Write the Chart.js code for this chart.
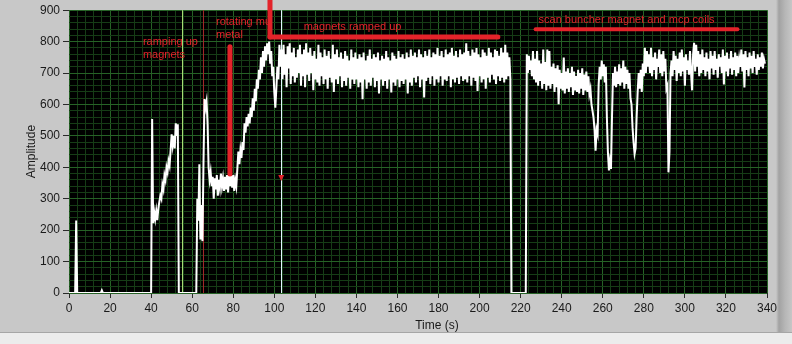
<!DOCTYPE html>
<html><head><meta charset="utf-8">
<script src="https://cdn.jsdelivr.net/npm/chart.js@4"></script>
<style>
html,body{margin:0;padding:0;}
body{width:792px;height:344px;overflow:hidden;background:#ececec;}
#wrap{position:relative;width:792px;height:344px;
 background:
  linear-gradient(#a6a6a6,#a6a6a6) 0 332px / 792px 1px no-repeat,
  linear-gradient(to right,#c8c8c8 0,#c8c8c8 776px,#a2a2a2 779px,#b6b6b6 785px,#c6c6c6 792px) 0 0 / 792px 333px no-repeat,
  #ececec;}
canvas{position:absolute;left:0;top:0;}
</style></head><body>
<div id="wrap"><canvas id="c" width="792" height="344" style="width:792px;height:344px"></canvas></div>
<script>
const sampleStep = 0.5;
const amplitude = [
  // 0 - 39.5 s
  0,0,0,0,0,0,0, 231,
  0,0,0,0,0,0,0,0,0,0,0,0, 0,0,0,0,0,0,0,0,0,0,0,0,
  8,
  0,0,0,0,0,0,0,0,0,0,0,0, 0,0,0,0,0,0,0,0,0,0,0,0, 0,0,0,0,0,0,0,0,0,0,0,0, 0,0,0,0,0,0,0,0,0,0,0,
  // 40 - 53.5 s ramping up magnets
  0,554,222,258,235,262,232,268,290,310,300,345,330,375,360,400,385,420,405,455,505,470,500,460,540,500,537,0,
  // 54 - 62 s
  0,0,0,0,0,0,0,0,0,0,0,0, 0,0,0,0,0,
  // 62.5 - 68.5 s
  300,230,410,170,280,165,410,617,590,610,540,400,360,
  // 69 - 81.5 s rotating mu metal
  385,340,370,300,365,330,375,310,360,335,380,340,365,325,370,330,375,320,385,340,370,335,375,325,360,340,
  // 82 - 103 s
  395,450,410,455,430,480,455,540,510,560,530,570,540,590,560,620,580,650,610,680,650,710,680,750,700,770,720,785,740,795,760,800,730,770,690,720,640,590,650,720,680,790,720,
  // 103.5 - 215 s magnets ramped up
  775,680,790,695,760,655,785,715,795,665,
  765,690,780,670,750,685,775,700,790,660,
  760,690,775,655,795,695,765,675,780,700,
  755,645,770,680,745,670,790,660,765,690,
  750,665,775,680,755,650,770,685,745,670,
  790,640,760,680,775,665,750,690,765,655,
  745,675,770,660,755,685,740,650,775,680,
  750,665,765,680,745,655,760,670,750,617,
  765,680,740,650,755,670,775,660,745,685,
  760,655,750,675,765,635,740,680,755,660,
  745,675,770,650,750,680,740,638,765,670,
  755,660,745,680,770,655,750,675,760,665,
  745,680,765,635,750,670,775,660,755,685,
  765,670,750,690,775,655,760,680,750,622,
  770,675,755,685,775,665,750,690,765,660,
  760,680,780,670,755,690,770,660,750,680,
  775,675,760,690,765,655,780,680,755,670,
  770,685,750,665,775,690,760,675,765,680,
  795,670,770,690,755,660,775,685,765,675,
  780,643,760,690,750,670,775,680,765,650,
  755,685,780,670,765,695,750,680,775,665,
  770,690,755,675,780,685,765,670,790,680,
  765,690,750,680,
  // 215.5 - 222.5 s
  0,0,0,0,0,0,0,0,0,0,0,0,0,0,0,
  // 223 - 339 s scan buncher magnet and mcp coils
  760,700,755,710,740,690,770,680,745,670,
  770,660,740,675,730,650,775,665,735,645,
  775,660,770,650,720,665,730,640,715,655,
  725,601,710,650,700,645,749,635,705,650,
  715,640,700,655,720,630,705,645,690,640,
  710,635,700,650,715,630,695,645,705,640,
  690,633,650,600,580,558,520,453,520,506,
  664,720,680,740,690,728,670,720,560,450,
  390,420,395,560,700,660,720,655,705,665,
  728,660,715,670,740,650,720,665,710,650,
  700,620,600,527,480,443,460,560,640,700,
  650,710,640,730,690,780,700,770,720,760,
  700,780,690,750,710,765,680,745,720,775,
  700,760,690,770,705,745,650,660,384,450,
  700,740,690,770,710,755,675,745,700,765,
  690,775,705,750,660,760,710,740,695,770,
  700,645,760,796,705,790,720,770,690,760,
  700,775,710,750,690,765,705,745,680,770,
  715,755,695,770,710,745,685,760,720,750,
  700,775,664,755,705,765,690,745,715,770,
  695,750,710,765,690,755,700,745,720,775,
  705,760,654,770,710,750,690,765,715,755,
  700,770,720,745,695,760,710,750,720,765,
  715,745,730
];
const timeSec = amplitude.map((_, i) => i * sampleStep);
const xMajorTicks = [0,20,40,60,80,100,120,140,160,180,200,220,240,260,280,300,320,340];
const yMajorTicks = [0,100,200,300,400,500,600,700,800,900];

// cursors (time, s)
const cursorTimes = [55.2, 65.2, 103.5];
const cursorColors = ['#a8da74', '#a12828', '#e2f6ff'];

// hand-drawn red notes (time s, amplitude)
const noteTexts = ['ramping up', 'magnets', 'rotating mu', 'metal', 'magnets ramped up', 'scan buncher magnet and mcp coils'];
const noteTime = [36.0, 36.0, 71.6, 71.6, 114.3, 228.7];
const noteAmp = [800, 757, 861, 821, 846, 868];
const markFromTime = [78.4, 97.9, 97.9, 227.3];
const markFromAmp  = [784, 935, 815, 839];
const markToTime   = [78.4, 97.9, 208.9, 325.6];
const markToAmp    = [379, 815, 815, 839];
const markWidth    = [5, 5, 5, 4];
const arrowTime = 103.4, arrowAmp = 366;

const RED = '#e3232a';
const FONT = '"Liberation Sans", Arial, sans-serif';

const overlay = {
  id: 'overlay',
  beforeDraw(chart) {
    const {ctx, chartArea: a} = chart;
    ctx.save();
    ctx.fillStyle = '#000';
    ctx.fillRect(a.left, a.top, a.right - a.left, a.bottom - a.top);
    ctx.restore();
  },
  beforeDatasetsDraw(chart) {
    const {ctx, chartArea: a, scales: {x}} = chart;
    ctx.save();
    ctx.lineWidth = 1;
    cursorTimes.forEach((t, i) => {
      const px = Math.round(x.getPixelForValue(t)) + 0.5;
      ctx.strokeStyle = cursorColors[i];
      ctx.beginPath(); ctx.moveTo(px, a.top); ctx.lineTo(px, a.bottom); ctx.stroke();
    });
    ctx.restore();
  },
  afterDatasetsDraw(chart) {
    const {ctx, scales: {x, y}} = chart;
    ctx.save();
    ctx.fillStyle = RED;
    ctx.font = '11px ' + FONT;
    ctx.textBaseline = 'middle';
    ctx.textAlign = 'left';
    noteTexts.forEach((s, i) => ctx.fillText(s, x.getPixelForValue(noteTime[i]), y.getPixelForValue(noteAmp[i])));
    ctx.strokeStyle = RED;
    ctx.lineCap = 'round';
    markFromTime.forEach((t, i) => {
      ctx.lineWidth = markWidth[i];
      ctx.beginPath();
      ctx.moveTo(x.getPixelForValue(t), y.getPixelForValue(markFromAmp[i]));
      ctx.lineTo(x.getPixelForValue(markToTime[i]), y.getPixelForValue(markToAmp[i]));
      ctx.stroke();
    });
    const ax = x.getPixelForValue(arrowTime), ay = y.getPixelForValue(arrowAmp);
    ctx.beginPath();
    ctx.moveTo(ax - 3, ay - 3); ctx.lineTo(ax + 3, ay - 3); ctx.lineTo(ax, ay + 3); ctx.closePath();
    ctx.fill();
    ctx.restore();
  },
  afterDraw(chart) {
    const {ctx, chartArea: a} = chart;
    ctx.save();
    ctx.fillStyle = '#1a1a1a';
    ctx.font = '12px ' + FONT;
    ctx.textAlign = 'center';
    ctx.textBaseline = 'middle';
    ctx.fillText('Time (s)', (a.left + a.right) / 2 + 19, 326);
    ctx.translate(32, (a.top + a.bottom) / 2);
    ctx.rotate(-Math.PI / 2);
    ctx.fillText('Amplitude', 0, 0);
    ctx.restore();
  }
};

const majorGrid = 'rgb(38,98,38)';
const minorGrid = 'rgb(22,60,22)';

new Chart(document.getElementById('c'), {
  type: 'line',
  data: {
    datasets: [{
      label: 'Amplitude',
      data: timeSec.map((t, i) => ({x: t, y: amplitude[i]})),
      borderColor: '#ffffff',
      borderWidth: 2,
      pointRadius: 0,
      fill: false,
      tension: 0
    }]
  },
  options: {
    responsive: false,
    devicePixelRatio: 1,
    animation: false,
    layout: {padding: {left: 0, right: 25, top: 9, bottom: 0}},
    plugins: {legend: {display: false}, tooltip: {enabled: false}},
    scales: {
      x: {
        type: 'linear', min: 0, max: 340,
        afterFit(s) { s.height = 51; },
        border: {display: false},
        grid: {
          color: c => xMajorTicks.includes(c.tick.value) ? majorGrid : minorGrid,
          tickColor: c => xMajorTicks.includes(c.tick.value) ? '#2a2a2a' : 'rgba(0,0,0,0)',
          tickLength: 5, lineWidth: 1
        },
        ticks: {
          stepSize: 4, autoSkip: false, maxRotation: 0, padding: 3,
          color: '#1a1a1a', font: {family: FONT, size: 12},
          callback: v => xMajorTicks.includes(v) ? String(v) : ''
        }
      },
      y: {
        type: 'linear', min: 0, max: 900,
        afterFit(s) { s.width = 69; },
        border: {display: false},
        grid: {
          color: c => yMajorTicks.includes(c.tick.value) ? majorGrid : minorGrid,
          tickColor: c => yMajorTicks.includes(c.tick.value) ? '#2a2a2a' : 'rgba(0,0,0,0)',
          tickLength: 6, lineWidth: 1
        },
        ticks: {
          stepSize: 20, autoSkip: false, padding: 3,
          color: '#1a1a1a', font: {family: FONT, size: 12},
          callback: v => yMajorTicks.includes(v) ? String(v) : ''
        }
      }
    }
  },
  plugins: [overlay]
});
</script>
</body></html>
